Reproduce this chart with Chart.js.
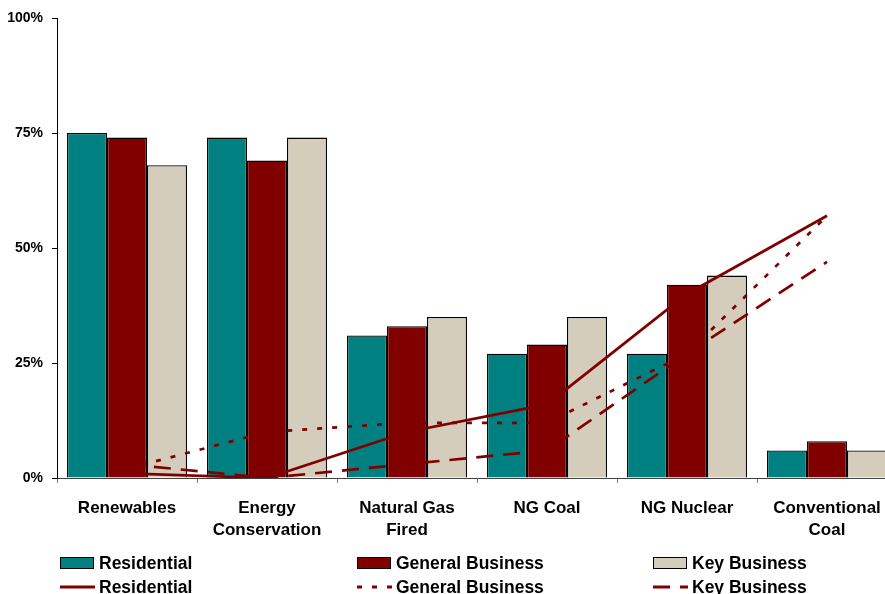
<!DOCTYPE html>
<html>
<head>
<meta charset="utf-8">
<script src="https://cdn.jsdelivr.net/npm/chart.js@4/dist/chart.umd.min.js"></script>
<style>
  html, body { margin: 0; padding: 0; background: #fff; overflow: hidden; }
  #wrap { position: relative; width: 885px; height: 594px; overflow: hidden; }
  #c { position: absolute; left: 0; top: 0; }
  #legend { position: absolute; left: 0; top: 0; width: 885px; height: 594px; pointer-events: none;
    font-family: "Liberation Sans", Arial, sans-serif; font-weight: bold; font-size: 17.5px; color: #000; }
  .item { position: absolute; display: flex; align-items: center; white-space: nowrap; height: 22px; }
  .box { width: 32px; height: 10px; border: 1px solid #000; margin-right: 5px; }
  .item svg { margin-right: 4px; }
</style>
</head>
<body>
<div id="wrap">
  <canvas id="c" width="900" height="594"></canvas>
  <div id="legend"></div>
</div>
<script>
// ---- data ----
const categories = ["Renewables", ["Energy", "Conservation"], ["Natural Gas", "Fired"], "NG Coal", "NG Nuclear", ["Conventional", "Coal"]];
const seriesNames = ["Residential", "General Business", "Key Business"];
const barResidential = [75, 74, 31, 27, 27, 6];
const barGeneralBusiness = [74, 69, 33, 29, 42, 8];
const barKeyBusiness = [68, 74, 35, 35, 44, 6];
const lineResidential = [1, 0, 10, 16, 40, 57];
const lineGeneralBusiness = [2, 10, 12, 12, 27, 57];
const lineKeyBusiness = [3, 0, 3, 6, 27, 47];
const yTicks = [0, 25, 50, 75, 100];

const barColors = ["#008080", "#800000", "#D5CDBB"];
const lineColor = "#800000";
const lineDashes = [[], [5, 10], [17, 10]];
const FONT = '"Liberation Sans", Arial, sans-serif';

const barData = [barResidential, barGeneralBusiness, barKeyBusiness];
const lineData = [lineResidential, lineGeneralBusiness, lineKeyBusiness];

const datasets = [];
barData.forEach((d, i) => datasets.push({
  type: 'bar', label: seriesNames[i], data: d, backgroundColor: barColors[i],
  borderColor: '#000', borderWidth: 1.3, order: 1,
  categoryPercentage: 0.857, barPercentage: 1.0
}));
lineData.forEach((d, i) => datasets.push({
  type: 'line', label: seriesNames[i], data: d, borderColor: lineColor, backgroundColor: lineColor,
  borderWidth: 2.7, borderDash: lineDashes[i], pointRadius: 0, fill: false, tension: 0, order: 0,
  borderCapStyle: 'butt'
}));

const chart = new Chart(document.getElementById('c'), {
  type: 'bar',
  data: { labels: categories, datasets },
  options: {
    responsive: false,
    animation: false,
    layout: { padding: { left: 0, right: 3, top: 18, bottom: 46 } },
    plugins: { legend: { display: false }, tooltip: { enabled: false } },
    scales: {
      x: {
        offset: true,
        grid: { display: true, drawOnChartArea: false, drawTicks: true, tickLength: 5, color: '#808080', offset: true },
        border: { display: true, color: '#404040', width: 1 },
        ticks: { color: '#000', font: { family: FONT, weight: 'bold', size: 17, lineHeight: '22px' }, padding: 14, maxRotation: 0, autoSkip: false },
        afterFit: s => { s.height = 70; }
      },
      y: {
        min: 0, max: 100,
        afterBuildTicks: s => { s.ticks = yTicks.map(v => ({ value: v })); },
        grid: { display: true, drawOnChartArea: false, drawTicks: true, tickLength: 5, color: '#000' },
        border: { display: true, color: '#000', width: 1 },
        ticks: { color: '#000', font: { family: FONT, weight: 'bold', size: 14 }, padding: 9, callback: v => v + '%' },
        afterFit: s => { s.width = 57; }
      }
    }
  }
});

// ---- legend (HTML, generated from chart datasets) ----
const legend = document.getElementById('legend');
const colX = [60, 357, 653];
const rowY = [552, 576];
chart.data.datasets.forEach((ds, i) => {
  const row = ds.type === 'bar' ? 0 : 1;
  const col = i % 3;
  const el = document.createElement('div');
  el.className = 'item';
  el.style.left = colX[col] + 'px';
  el.style.top = rowY[row] + 'px';
  if (ds.type === 'bar') {
    const b = document.createElement('div');
    b.className = 'box';
    b.style.background = ds.backgroundColor;
    el.appendChild(b);
  } else {
    const ns = 'http://www.w3.org/2000/svg';
    const svg = document.createElementNS(ns, 'svg');
    svg.setAttribute('width', '35'); svg.setAttribute('height', '4');
    const ln = document.createElementNS(ns, 'line');
    ln.setAttribute('x1', '0'); ln.setAttribute('y1', '2'); ln.setAttribute('x2', '35'); ln.setAttribute('y2', '2');
    ln.setAttribute('stroke', ds.borderColor); ln.setAttribute('stroke-width', '3');
    if (ds.borderDash.length) ln.setAttribute('stroke-dasharray', ds.borderDash.join(' '));
    svg.appendChild(ln);
    el.appendChild(svg);
  }
  const t = document.createElement('span');
  t.textContent = ds.label;
  el.appendChild(t);
  legend.appendChild(el);
});
</script>
</body>
</html>
